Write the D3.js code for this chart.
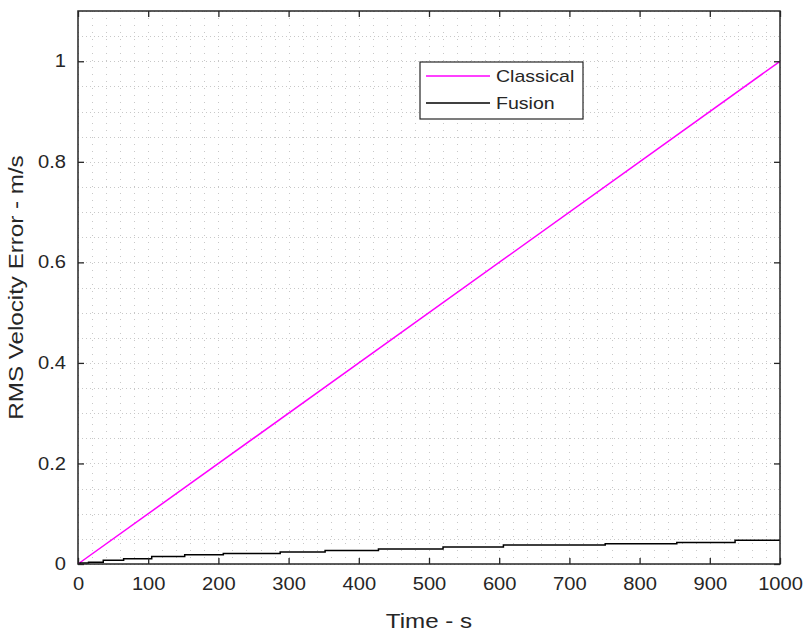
<!DOCTYPE html>
<html><head><meta charset="utf-8">
<script src="https://cdn.jsdelivr.net/npm/d3@7"></script>
<style>body{margin:0;background:#fff}text{font-family:"Liberation Sans",Arial,Helvetica,sans-serif;fill:#262626}</style>
</head><body>
<svg id="c" width="805" height="631"></svg>
<script>
const xTicks = [0,100,200,300,400,500,600,700,800,900,1000];
const xTickLabels = ["0","100","200","300","400","500","600","700","800","900","1000"];
const yTicks = [0,0.2,0.4,0.6,0.8,1];
const yTickLabels = ["0","0.2","0.4","0.6","0.8","1"];
const classicalTime = [0, 1000];
const classicalError = [0, 1.0];
const fusionTime = [0, 3, 15, 36, 65, 105, 152, 207, 288, 352, 428, 520, 606, 751, 853, 936, 1000];
const fusionError = [0, 0.002, 0.0034, 0.0073, 0.0105, 0.015, 0.0185, 0.021, 0.024, 0.027, 0.030, 0.034, 0.038, 0.0405, 0.043, 0.047, 0.047];
const seriesNames = ["Classical","Fusion"];
const seriesColors = ["#ff00ff","#000000"];

const svg = d3.select("#c");
const L=78,R=780,T=11,B=564;
const x = d3.scaleLinear().domain([0,1000]).range([L,R]);
const y = d3.scaleLinear().domain([0,1.1]).range([B,T]);
const stretch = 1.15;
function fit(sel){ sel.each(function(){ const w=this.getComputedTextLength(); d3.select(this).attr("textLength",w*stretch).attr("lengthAdjust","spacingAndGlyphs"); }); }

// grid
const g = svg.append("g");
const xMinor = d3.range(0,1001,20), yMinor = d3.range(0,1.1001,0.05);
g.selectAll("line.vx").data(xMinor).join("line")
 .attr("x1",d=>Math.round(x(d))+0.5).attr("x2",d=>Math.round(x(d))+0.5).attr("y1",T).attr("y2",B)
 .attr("stroke","#c8c8c8").attr("stroke-width",1).attr("stroke-dasharray","1,6");
g.selectAll("line.hy").data(yMinor).join("line")
 .attr("y1",d=>Math.round(y(d))+0.5).attr("y2",d=>Math.round(y(d))+0.5).attr("x1",L).attr("x2",R)
 .attr("stroke","#c8c8c8").attr("stroke-width",1).attr("stroke-dasharray","1,3");

// lines
const line = d3.line().x(d=>x(d[0])).y(d=>y(d[1]));
svg.append("path").datum(d3.zip(classicalTime,classicalError)).attr("d",line)
 .attr("fill","none").attr("stroke",seriesColors[0]).attr("stroke-width",1.5);
svg.append("path").datum(d3.zip(fusionTime,fusionError)).attr("d",line.curve(d3.curveStepAfter))
 .attr("fill","none").attr("stroke",seriesColors[1]).attr("stroke-width",1.5);

// axes
const ax = svg.append("g").attr("transform",`translate(0,${B})`)
 .call(d3.axisBottom(x).tickValues(xTicks).tickFormat((d,i)=>xTickLabels[i]).tickSizeInner(-6).tickSizeOuter(0).tickPadding(14));
const axT = svg.append("g").attr("transform",`translate(0,${T})`)
 .call(d3.axisTop(x).tickValues(xTicks).tickSizeInner(-6).tickSizeOuter(0).tickFormat(""));
const ay = svg.append("g").attr("transform",`translate(${L},0)`)
 .call(d3.axisLeft(y).tickValues(yTicks).tickFormat((d,i)=>yTickLabels[i]).tickSizeInner(-6).tickSizeOuter(0).tickPadding(12));
const ayR = svg.append("g").attr("transform",`translate(${R},0)`)
 .call(d3.axisRight(y).tickValues(yTicks).tickSizeInner(-6).tickSizeOuter(0).tickFormat(""));
[ax,axT,ay,ayR].forEach(a=>{a.select(".domain").remove(); a.selectAll("line").attr("stroke","#262626").attr("stroke-width",1.3);});
ax.selectAll("text").attr("font-size",17.5).attr("fill","#333").attr("font-family","Liberation Sans, Arial").call(fit);
ay.selectAll("text").attr("font-size",17.5).attr("fill","#333").attr("font-family","Liberation Sans, Arial").call(fit);
svg.append("rect").attr("x",L).attr("y",T).attr("width",R-L).attr("height",B-T)
 .attr("fill","none").attr("stroke","#262626").attr("stroke-width",1.5);

// labels
svg.append("text").attr("x",(L+R)/2).attr("y",628).attr("text-anchor","middle").attr("font-size",21).attr("fill","#333").text("Time - s").call(fit);
svg.append("text").attr("transform",`translate(23,${(T+B)/2}) rotate(-90)`).attr("text-anchor","middle").attr("font-size",21).attr("fill","#333").text("RMS Velocity Error - m/s").call(fit);

// legend
const lg = svg.append("g");
lg.append("rect").attr("x",420).attr("y",62).attr("width",163).attr("height",57).attr("fill","#fff").attr("stroke","#262626").attr("stroke-width",1.2);
seriesNames.forEach((n,i)=>{
  const yy = 76 + i*27;
  lg.append("line").attr("x1",426).attr("x2",490).attr("y1",yy).attr("y2",yy).attr("stroke",seriesColors[i]).attr("stroke-width",1.5);
  lg.append("text").attr("x",496).attr("y",yy).attr("dy","0.35em").attr("font-size",17).attr("fill","#333").text(n).call(fit);
});
</script>
</body></html>
